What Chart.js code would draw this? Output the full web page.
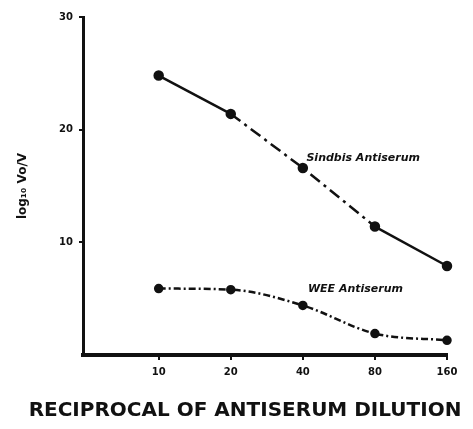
<!DOCTYPE html>
<html>
<head>
<meta charset="utf-8">
<script src="https://cdn.jsdelivr.net/npm/chart.js@4"></script>
<style>
  html, body { margin: 0; padding: 0; background: #fff; }
  #wrap { width: 473px; height: 429px; }
</style>
</head>
<body>
<div id="wrap"><canvas id="chart"></canvas></div>
<script>
// Data
const dilutions = ["10", "20", "40", "80", "160"];
const sindbis = [24.8, 21.4, 16.6, 11.4, 7.9];
const wee = [5.9, 5.8, 4.4, 1.9, 1.3];
const yTicks = [10, 20, 30];

// curve labels: [text, x index, y value]
const curveLabels = [
  ["Sindbis Antiserum", 2.05, 17.5],
  ["WEE Antiserum", 2.07, 5.85]
];
const xCaption = "RECIPROCAL OF ANTISERUM DILUTION";

const ink = "#111";

function toPoints(values) {
  return values.map((v, i) => ({ x: i, y: v }));
}

// Plugin to write the curve names and the hand-lettered x caption
const curveLabelPlugin = {
  id: "curveLabels",
  afterDraw(chart) {
    const ctx = chart.ctx;
    const xs = chart.scales.x;
    const ys = chart.scales.y;
    ctx.save();
    ctx.fillStyle = ink;
    ctx.font = "italic bold 11px 'DejaVu Sans'";
    ctx.textBaseline = "middle";
    curveLabels.forEach(([text, xi, yv]) => {
      ctx.fillText(text, xs.getPixelForValue(xi), ys.getPixelForValue(yv));
    });
    // caption sits a little left of the plot centre in the scan
    ctx.font = "bold 20px 'DejaVu Sans'";
    ctx.textAlign = "center";
    ctx.fillText(xCaption, (xs.left + xs.right) / 2 - 20, xs.bottom - 8);
    ctx.restore();
  }
};

const chartCanvas = document.getElementById("chart");
new Chart(chartCanvas.getContext("2d"), {
  type: "line",
  data: {
    datasets: [
      {
        label: "Sindbis Antiserum",
        data: toPoints(sindbis),
        borderColor: ink,
        backgroundColor: ink,
        borderWidth: 2.5,
        pointRadius: 4,
        tension: 0,
        segment: {
          borderDash: (c) => (c.p0DataIndex === 0 || c.p0DataIndex === 3 ? [] : [12, 5, 3, 5])
        }
      },
      {
        label: "WEE Antiserum",
        data: toPoints(wee),
        borderColor: ink,
        backgroundColor: ink,
        borderWidth: 2.5,
        borderDash: [7, 3, 2, 3],
        pointRadius: 3.5,
        cubicInterpolationMode: "monotone"
      }
    ]
  },
  options: {
    responsive: true,
    maintainAspectRatio: false,
    animation: false,
    clip: false,
    layout: { padding: { left: 8, right: 26, top: 17, bottom: 10 } },
    plugins: {
      legend: { display: false },
      tooltip: { enabled: false }
    },
    scales: {
      x: {
        type: "linear",
        min: -1.05,
        max: 4,
        afterFit: (s) => { s.height = 64; },
        afterBuildTicks: (s) => { s.ticks = dilutions.map((d, i) => ({ value: i })); },
        ticks: {
          color: ink,
          font: { family: "DejaVu Sans", size: 10, weight: "bold" },
          padding: 6,
          callback: (v) => dilutions[v]
        },
        grid: { drawOnChartArea: false, tickLength: 5, color: ink, lineWidth: 2 },
        border: { color: ink, width: 4 }
      },
      y: {
        min: 0,
        max: 30,
        afterFit: (s) => { s.width = 75; },
        afterBuildTicks: (s) => { s.ticks = yTicks.map((v) => ({ value: v })); },
        ticks: {
          color: ink,
          font: { family: "DejaVu Sans", size: 10, weight: "bold" },
          padding: 6
        },
        grid: { drawOnChartArea: false, tickLength: 4, color: ink, lineWidth: 2 },
        border: { color: ink, width: 3 },
        title: {
          display: true,
          text: "log\u2081\u2080 Vo/V",
          color: ink,
          font: { family: "DejaVu Sans", size: 12, weight: "bold" },
          padding: { top: 8, bottom: 0 }
        }
      }
    }
  },
  plugins: [curveLabelPlugin]
});
</script>
</body>
</html>
